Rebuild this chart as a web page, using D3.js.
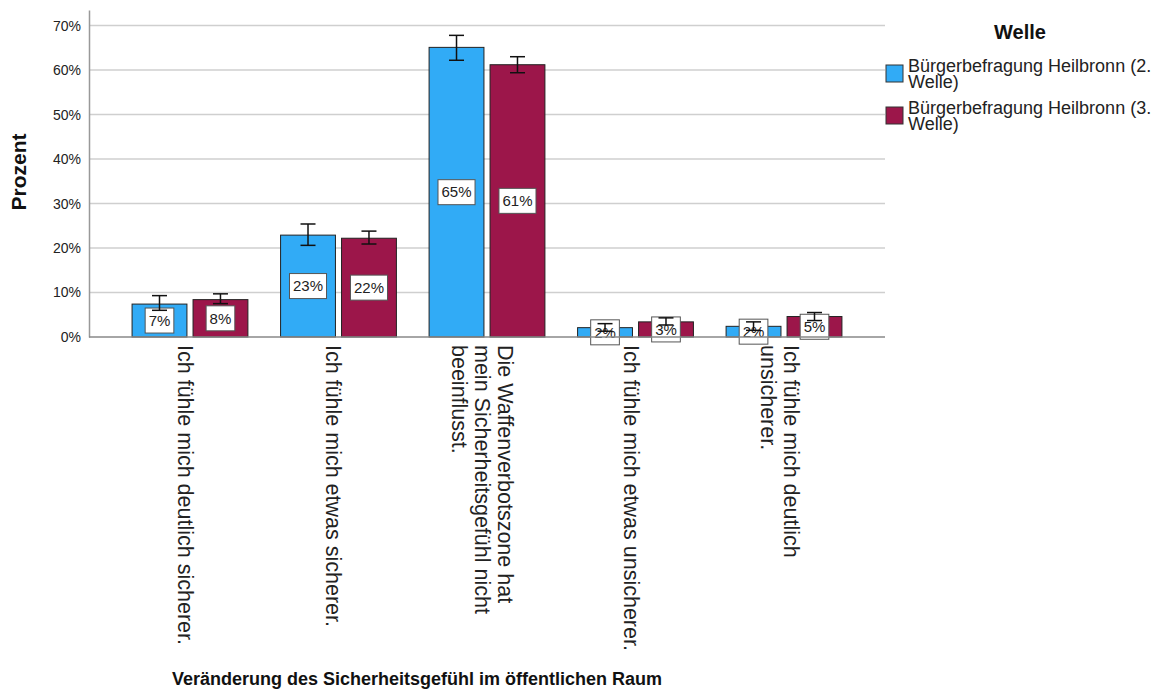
<!DOCTYPE html>
<html>
<head>
<meta charset="utf-8">
<script src="https://cdn.jsdelivr.net/npm/d3@7"></script>
<style>
  body { margin: 0; background: #fff; }
  svg { font-family: "Liberation Sans", Arial, sans-serif; }
</style>
</head>
<body>
<div id="chart"></div>
<script>
// categories (each entry split into its wrapped lines)
const categories = [
  ["Ich fühle mich deutlich sicherer."],
  ["Ich fühle mich etwas sicherer."],
  ["Die Waffenverbotszone hat", "mein Sicherheitsgefühl nicht", "beeinflusst."],
  ["Ich fühle mich etwas unsicherer."],
  ["Ich fühle mich deutlich", "unsicherer."]
];
const seriesNames = ["Bürgerbefragung Heilbronn (2. Welle)", "Bürgerbefragung Heilbronn (3. Welle)"];
const legendLines = [["Bürgerbefragung Heilbronn (2.", "Welle)"], ["Bürgerbefragung Heilbronn (3.", "Welle)"]];

// percentages, with confidence interval ends
const welle2   = [7.4, 22.9, 65.1, 2.1, 2.4];
const welle2Lo = [6.0, 20.6, 62.2, 1.3, 1.5];
const welle2Hi = [9.3, 25.4, 67.8, 3.0, 3.4];
const welle3   = [8.4, 22.2, 61.2, 3.4, 4.6];
const welle3Lo = [7.5, 20.9, 59.4, 2.7, 3.7];
const welle3Hi = [9.7, 23.8, 63.0, 4.3, 5.5];

const yTicks = [0, 10, 20, 30, 40, 50, 60, 70];

const colors = ["#31abf6", "#9c164a"];

const width = 1154, height = 692;
const plot = {left: 89, right: 885, top: 10, bottom: 337};

const svg = d3.select("#chart").append("svg")
    .attr("width", width)
    .attr("height", height);

const catKeys = categories.map((c, i) => i);

const x0 = d3.scaleBand()
    .domain(catKeys)
    .range([plot.left, plot.right])
    .paddingInner(0.22)
    .paddingOuter(0.29);

const x1 = d3.scaleBand()
    .domain([0, 1])
    .range([0, x0.bandwidth()])
    .paddingInner(0.1);

const y = d3.scaleLinear()
    .domain([0, 73.5])
    .range([plot.bottom, plot.top]);

// gridlines
svg.append("g")
  .selectAll("line")
  .data(yTicks.filter(d => d > 0))
  .join("line")
    .attr("x1", plot.left)
    .attr("x2", plot.right)
    .attr("y1", d => y(d))
    .attr("y2", d => y(d))
    .attr("stroke", "#cfcfcf")
    .attr("stroke-width", 1.5);

// y axis
const yAxis = d3.axisLeft(y).tickValues(yTicks).tickSize(0).tickPadding(8).tickFormat(d => d + "%");
const yg = svg.append("g")
    .attr("transform", `translate(${plot.left},0)`)
    .call(yAxis);
yg.select(".domain").attr("stroke", "#999").attr("stroke-width", 1.5);
yg.selectAll("text").attr("font-size", 14).attr("fill", "#222").attr("font-family", "Liberation Sans, Arial, sans-serif");

// data table
const table = catKeys.map(i => [
  {cat: i, s: 0, v: welle2[i], lo: welle2Lo[i], hi: welle2Hi[i]},
  {cat: i, s: 1, v: welle3[i], lo: welle3Lo[i], hi: welle3Hi[i]}
]);

const groups = svg.append("g")
  .selectAll("g")
  .data(table)
  .join("g")
    .attr("transform", (d, i) => `translate(${x0(i)},0)`);

groups.selectAll("rect")
  .data(d => d)
  .join("rect")
    .attr("x", d => x1(d.s))
    .attr("y", d => y(d.v))
    .attr("width", x1.bandwidth())
    .attr("height", d => y(0) - y(d.v))
    .attr("fill", d => colors[d.s])
    .attr("stroke", "#222")
    .attr("stroke-width", 1);

// x axis baseline
svg.append("line")
    .attr("x1", plot.left)
    .attr("x2", plot.right)
    .attr("y1", y(0))
    .attr("y2", y(0))
    .attr("stroke", "#888")
    .attr("stroke-width", 1.5);

// value labels
const labels = groups.selectAll("g.lab")
  .data(d => d)
  .join("g")
    .attr("class", "lab")
    .attr("transform", d => `translate(${x1(d.s) + x1.bandwidth() / 2},${(y(d.v) + y(0)) / 2})`);

labels.append("text")
    .attr("text-anchor", "middle")
    .attr("dy", "0.35em")
    .attr("font-size", 15)
    .attr("fill", "#222")
    .text(d => Math.round(d.v) + "%")
    .each(function() {
      const bb = this.getBBox();
      d3.select(this.parentNode).insert("rect", "text")
        .attr("x", -bb.width / 2 - 3.5)
        .attr("y", -12.5)
        .attr("width", bb.width + 7)
        .attr("height", 25)
        .attr("fill", "#fff")
        .attr("stroke", "#555")
        .attr("stroke-width", 1);
    });

// error bars
const capW = 15;
const eb = groups.selectAll("g.err")
  .data(d => d)
  .join("g")
    .attr("class", "err")
    .attr("stroke", "#111")
    .attr("stroke-width", 1.5);
eb.append("line")
    .attr("x1", d => x1(d.s) + x1.bandwidth() / 2)
    .attr("x2", d => x1(d.s) + x1.bandwidth() / 2)
    .attr("y1", d => y(d.lo))
    .attr("y2", d => y(d.hi));
eb.append("line")
    .attr("x1", d => x1(d.s) + x1.bandwidth() / 2 - capW / 2)
    .attr("x2", d => x1(d.s) + x1.bandwidth() / 2 + capW / 2)
    .attr("y1", d => y(d.hi))
    .attr("y2", d => y(d.hi));
eb.append("line")
    .attr("x1", d => x1(d.s) + x1.bandwidth() / 2 - capW / 2)
    .attr("x2", d => x1(d.s) + x1.bandwidth() / 2 + capW / 2)
    .attr("y1", d => y(d.lo))
    .attr("y2", d => y(d.lo));

// rotated category labels
const lineGap = 23;
svg.append("g")
  .selectAll("text")
  .data(categories)
  .join("text")
    .attr("transform", (d, i) => {
      const cx = x0(i) + x0.bandwidth() / 2 - 12 + (d.length - 1) * lineGap / 2;
      return `translate(${cx},345) rotate(90)`;
    })
    .attr("font-size", 21.5)
    .attr("fill", "#222")
  .selectAll("tspan")
  .data(d => d)
  .join("tspan")
    .attr("x", 0)
    .attr("y", (d, j) => j * lineGap)
    .text(d => d);

// axis titles
svg.append("text")
    .attr("transform", `translate(26,172) rotate(-90)`)
    .attr("text-anchor", "middle")
    .attr("font-size", 21)
    .attr("font-weight", "bold")
    .attr("fill", "#111")
    .text("Prozent");

svg.append("text")
    .attr("x", 172)
    .attr("y", 685)
    .attr("font-size", 18)
    .attr("font-weight", "bold")
    .attr("fill", "#111")
    .text("Veränderung des Sicherheitsgefühl im öffentlichen Raum");

// legend
const legend = svg.append("g");
legend.append("text")
    .attr("x", 1020)
    .attr("y", 39)
    .attr("text-anchor", "middle")
    .attr("font-size", 20)
    .attr("font-weight", "bold")
    .attr("fill", "#111")
    .text("Welle");

const items = legend.selectAll("g.item")
  .data(seriesNames)
  .join("g")
    .attr("class", "item")
    .attr("transform", (d, i) => `translate(886,${65 + i * 42})`);
items.append("rect")
    .attr("width", 17)
    .attr("height", 17)
    .attr("fill", (d, i) => colors[i])
    .attr("stroke", "#333")
    .attr("stroke-width", 1);
items.append("text")
    .attr("font-size", 18)
    .attr("fill", "#222")
  .selectAll("tspan")
  .data((d, i) => legendLines[i])
  .join("tspan")
    .attr("x", 22)
    .attr("y", (d, j) => 7 + j * 16)
    .text(d => d);
</script>
</body>
</html>
